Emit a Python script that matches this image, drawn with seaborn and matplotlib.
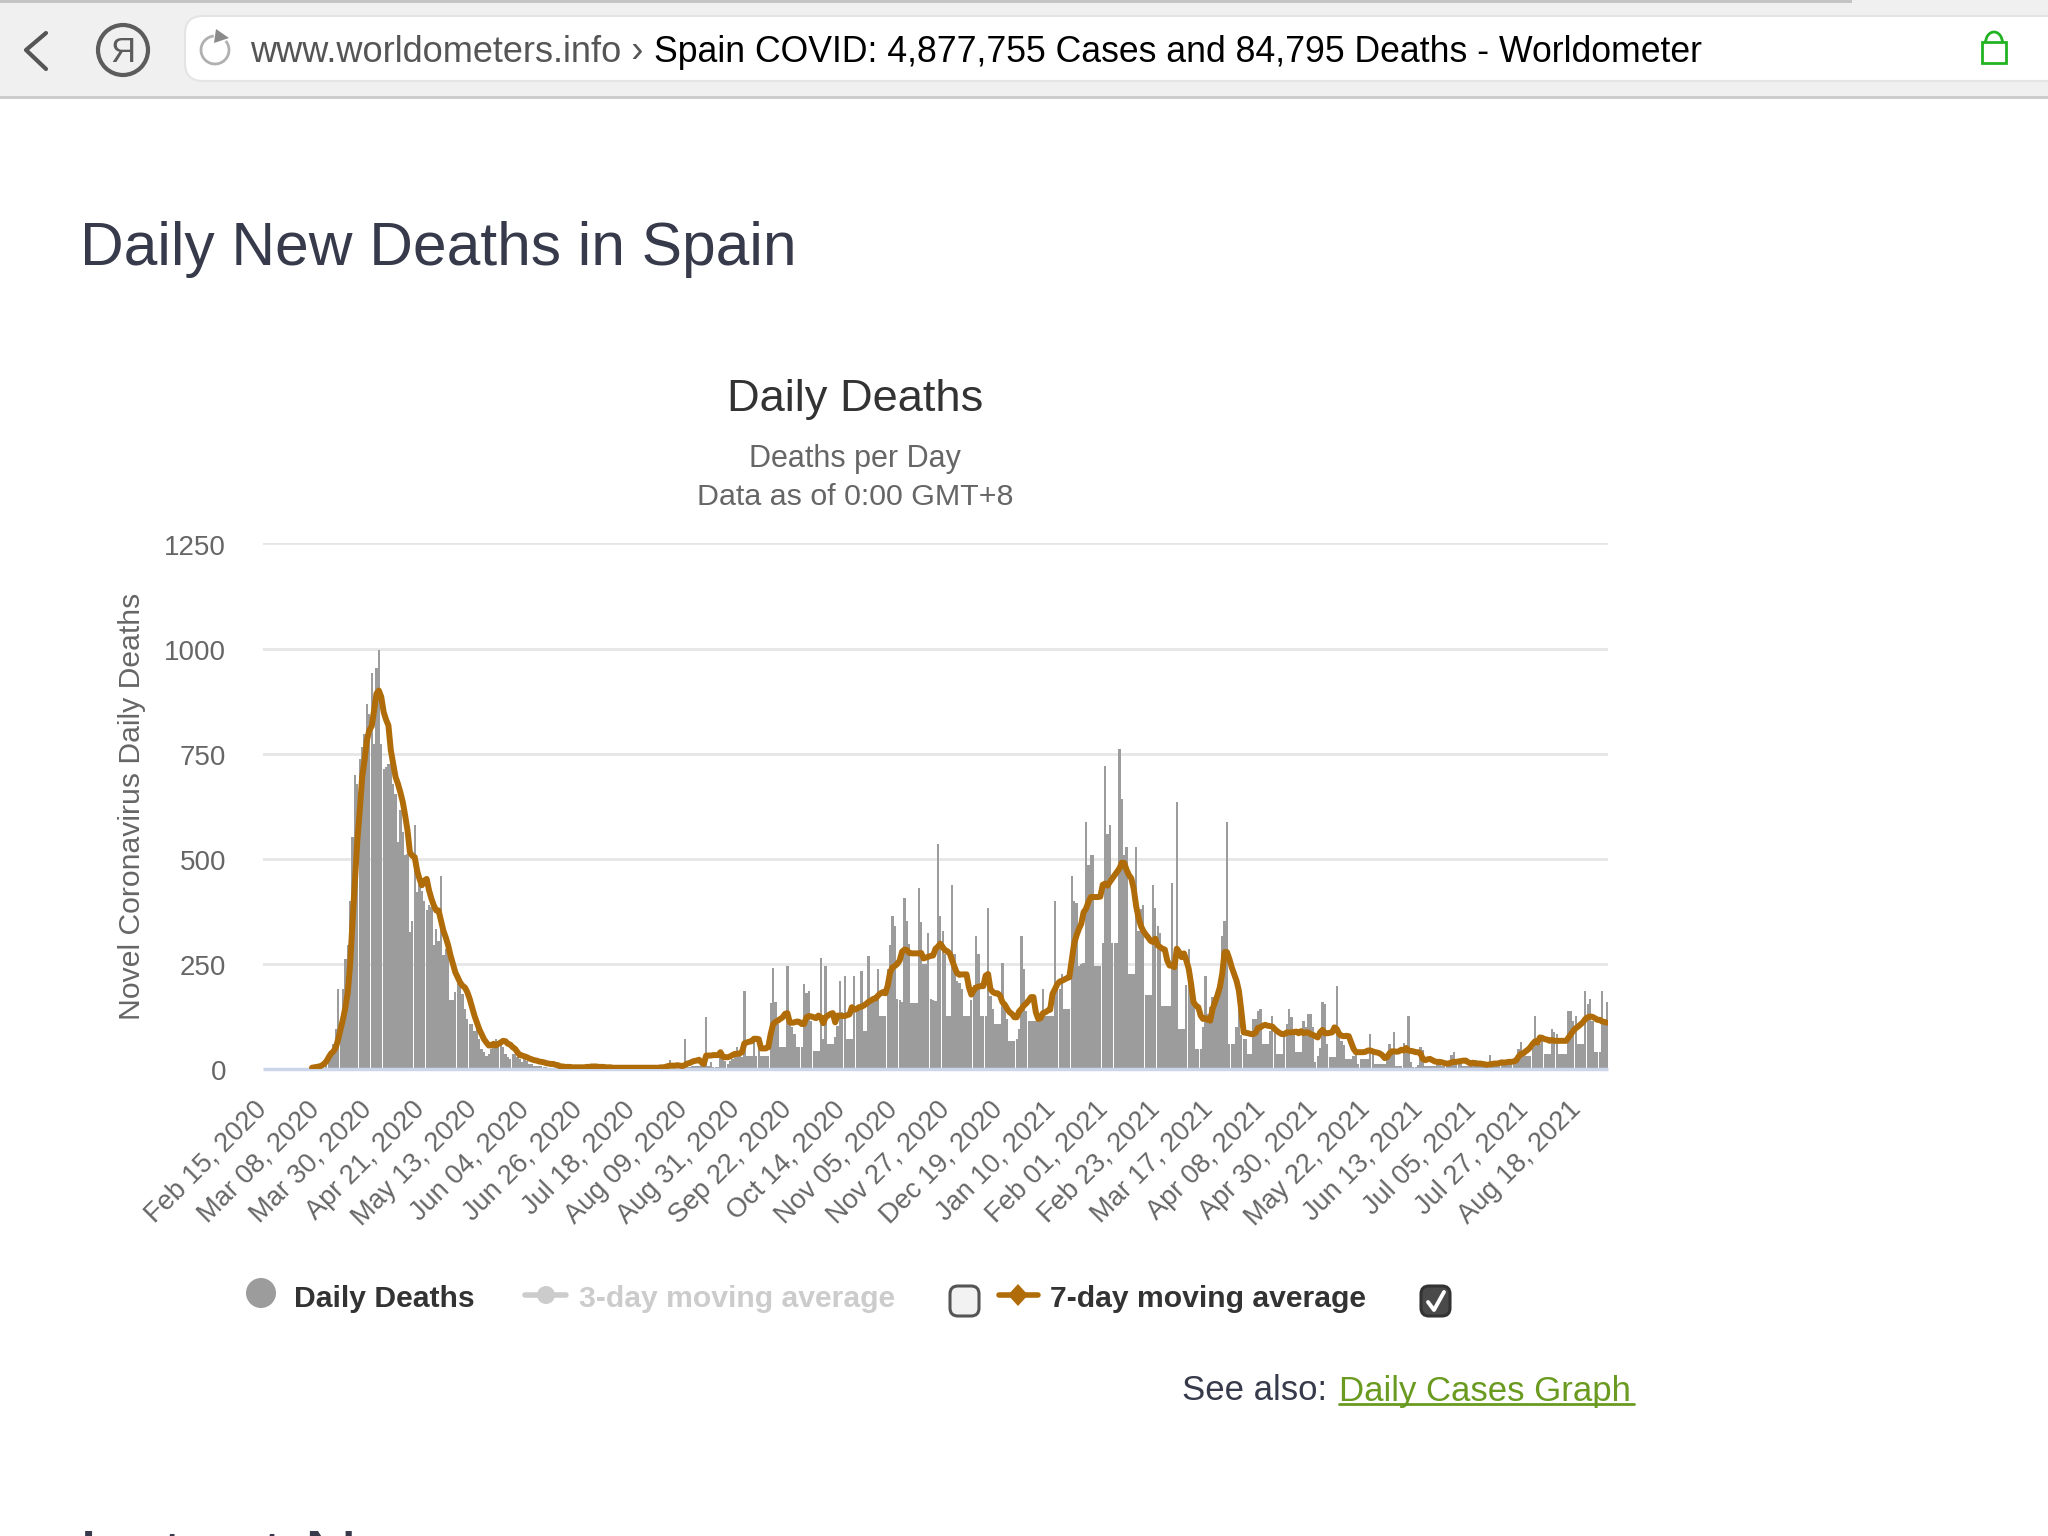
import numpy as np
import pandas as pd
import seaborn as sns
import matplotlib
matplotlib.use("Agg")
import matplotlib.pyplot as plt
from matplotlib.patches import FancyBboxPatch, Circle, Polygon, Arc, Rectangle
from matplotlib.transforms import ScaledTranslation

# ---------- data ----------
DAILY = [
 0,0,0,0,0,0,0,0,0,0, 0,0,0,0,0,0,0,0,0,0,
 0,0,0,0,0,2,15,30,42,60,
 95,190,85,190,262,294,400,551,700,678,
 738,765,797,869,845,942,774,954,996,772,
 714,718,726,738,678,653,540,616,563,508,
 512,325,353,581,420,440,424,400,377,389,
 385,294,333,305,460,270,286,274,163,163,
 183,218,202,179,143,119,107,107,91,95,
 71,48,40,32,36,48,52,71,67,60,
 52,36,28,24,36,36,28,24,16,24,
 20,12,12,8,8,8,8,4,4,3,
 3,2,3,2,1,2,1,2,1,1,
 2,1,1,2,1,1,2,1,3,1,
 1,2,1,1,2,3,1,1,2,1,
 2,1,1,2,1,1,2,1,2,1,
 3,2,1,2,3,2,3,4,4,5,
 21,5,6,6,6,6,71,6,5,8,
 6,6,8,16,8,123,8,16,4,4,
 4,44,24,20,12,20,24,28,52,40,
 28,185,30,30,30,75,30,71,30,30,
 30,30,156,240,160,107,53,53,53,245,
 123,99,83,53,53,53,202,180,185,115,
 42,42,42,263,71,245,60,60,60,77,
 103,209,135,221,71,71,71,221,139,143,
 233,90,90,269,163,171,175,239,125,125,
 125,239,294,365,341,167,163,160,407,353,
 298,156,156,156,431,349,250,250,323,167,
 164,161,534,365,329,274,125,125,437,274,
 210,205,190,125,125,125,163,200,317,274,
 125,125,125,383,173,143,107,107,107,252,
 151,119,66,66,66,71,95,317,238,139,
 113,113,113,113,113,113,190,127,127,127,
 127,400,210,190,226,143,143,143,460,400,
 394,246,250,251,587,486,510,510,246,246,
 246,300,720,558,581,299,299,299,762,641,
 508,528,226,226,226,528,329,381,389,175,
 175,175,438,383,341,324,149,149,149,149,
 443,238,635,95,95,95,200,286,234,155,
 48,48,48,100,221,131,148,171,171,180,
 194,317,353,587,60,60,60,101,151,80,
 71,71,36,36,119,119,137,142,60,60,
 60,90,125,91,36,36,36,90,107,143,
 123,87,41,41,41,113,100,131,131,100,
 16,32,50,160,155,60,29,29,29,197,
 79,67,56,24,24,24,30,36,12,24,
 24,24,24,83,40,12,12,12,12,12,
 30,60,36,89,6,6,6,63,50,125,
 16,4,4,10,52,44,8,8,8,8,
 8,12,12,8,6,6,6,34,40,12,
 12,12,6,6,6,12,14,21,10,6,
 6,6,12,34,14,6,6,6,12,12,
 14,14,12,12,14,48,65,32,32,32,
 32,50,125,60,60,75,36,36,36,95,
 87,83,36,36,36,36,137,137,115,125,
 60,60,60,185,155,167,115,41,41,41,
 185,111,160,
]
MA_FIRST_DAY = 20
MA7 = [
 3,4,5,6,8,12,18,28,37,42,
 52,71,95,119,147,183,250,353,448,544,
 615,694,734,782,806,815,853,893,900,885,
 849,831,817,758,726,694,678,658,635,603,
 567,515,507,504,472,452,437,448,452,425,
 405,389,377,377,353,329,313,294,270,250,
 230,218,206,198,194,183,167,147,127,111,
 95,83,71,63,56,56,60,56,60,63,
 67,66,60,58,52,48,40,33,32,30,
 28,25,23,21,20,18,17,16,14,13,
 12,12,10,9,6,6,5,5,5,4,
 4,4,4,4,4,5,5,6,6,6,
 5,5,5,4,4,4,3,3,3,3,
 3,3,3,3,3,3,3,3,3,3,
 3,3,3,3,3,3,4,4,5,7,
 8,8,8,9,8,7,9,13,14,17,
 19,20,22,16,12,32,32,32,33,33,
 33,40,29,28,28,30,33,36,36,37,
 40,61,63,65,66,72,72,71,49,49,
 49,52,83,106,112,115,119,123,131,133,
 111,110,111,113,112,107,107,123,126,125,
 123,121,127,123,109,123,127,131,133,111,
 127,127,126,126,128,130,147,141,143,147,
 148,151,155,160,163,167,168,175,180,183,
 180,198,230,242,245,250,258,279,284,283,
 276,275,275,275,275,276,263,265,267,269,
 270,286,291,298,290,282,280,274,258,242,
 228,224,225,225,225,194,177,187,194,196,
 197,197,222,226,190,183,180,180,175,159,
 153,143,135,131,123,123,137,143,151,156,
 163,171,171,135,119,121,133,135,139,141,
 179,190,202,208,210,213,216,218,258,298,
 317,333,345,373,381,397,409,409,409,409,
 410,438,441,436,445,453,461,469,477,491,
 490,473,461,453,428,387,359,340,328,320,
 313,305,302,310,294,290,286,284,258,246,
 246,242,286,278,266,275,258,238,202,159,
 151,147,127,119,121,117,115,143,159,175,
 194,226,278,278,262,242,226,210,186,139,
 87,86,85,83,83,86,98,99,103,105,
 103,102,101,95,90,86,83,83,87,87,
 87,88,89,85,90,85,87,87,83,81,
 78,75,87,93,85,85,86,87,99,95,
 83,79,78,79,78,63,48,40,40,40,
 40,41,44,44,42,40,39,37,33,26,
 28,37,42,42,41,42,46,44,50,44,
 43,42,40,40,37,24,21,23,24,21,
 18,17,17,16,14,13,13,16,17,17,
 18,19,20,20,16,13,15,13,13,13,
 12,11,10,11,12,13,13,14,16,15,
 16,17,17,18,20,29,36,37,42,46,
 52,60,66,63,75,74,71,70,67,69,
 67,67,67,67,67,67,75,83,91,97,
 101,106,111,119,123,125,124,121,117,117,
 113,112,110,
]
X_TICK_LABELS = ["Feb 15, 2020","Mar 08, 2020","Mar 30, 2020","Apr 21, 2020","May 13, 2020",
 "Jun 04, 2020","Jun 26, 2020","Jul 18, 2020","Aug 09, 2020","Aug 31, 2020","Sep 22, 2020",
 "Oct 14, 2020","Nov 05, 2020","Nov 27, 2020","Dec 19, 2020","Jan 10, 2021","Feb 01, 2021",
 "Feb 23, 2021","Mar 17, 2021","Apr 08, 2021","Apr 30, 2021","May 22, 2021","Jun 13, 2021",
 "Jul 05, 2021","Jul 27, 2021","Aug 18, 2021"]
TICK_EVERY = 22
Y_TICKS = [0, 250, 500, 750, 1000, 1250]

# ---------- style ----------
sns.set_theme(style="white")
plt.rcParams['font.family'] = ['Liberation Sans', 'DejaVu Sans']
W, H = 2048, 1536
GREY_TXT = "#666666"
BAR = "#9c9c9c"
LINE = "#B06C08"

fig = plt.figure(figsize=(W/100, H/100), dpi=100, facecolor="white")

# pixel-coordinate page layer (browser chrome and page text)
pg = fig.add_axes([0, 0, 1, 1], zorder=0)
pg.set_xlim(0, W); pg.set_ylim(H, 0); pg.axis("off")

pg.add_patch(Rectangle((0, 0), W, 97, fc="#f0f0f0", ec="none"))
pg.add_patch(Rectangle((0, 0), 1852, 2.5, fc="#c4c4c4", ec="none"))
pg.add_patch(Rectangle((0, 96), W, 3, fc="#cdcdcd", ec="none"))
pg.add_patch(FancyBboxPatch((185, 16), 1900, 65, boxstyle="round,pad=0,rounding_size=18",
                            fc="white", ec="#e4e4e4", lw=1.5))
pg.plot([46, 26, 46], [33, 50, 69], color="#555555", lw=3, solid_capstyle="round")
pg.add_patch(Circle((123, 50), 25, fc="none", ec="#5c5c5c", lw=3))
pg.text(123, 52, "Я", fontsize=25, color="#5c5c5c", ha="center", va="center",
        family=["Liberation Sans", "DejaVu Sans"])
pg.add_patch(Arc((215, 50), 28, 28, theta1=-40, theta2=265, color="#b0b0b0", lw=2))
pg.add_patch(Polygon([[216, 29], [229, 38], [214, 43]], fc="#8a8a8a", ec="none"))
pg.text(250, 52, "www.worldometers.info ›", fontsize=26, color="#555555", va="center", ha="left")
pg.text(654, 52, "Spain COVID: 4,877,755 Cases and 84,795 Deaths - Worldometer",
        fontsize=25.65, color="#000000", va="center", ha="left")
pg.add_patch(Rectangle((1982, 42), 24, 21, fc="none", ec="#22b322", lw=2))
pg.add_patch(Arc((1994, 43), 17, 22, theta1=180, theta2=360, color="#22b322", lw=2))

pg.text(80, 249, "Daily New Deaths in Spain", fontsize=43.6, color="#363a4a", va="center", ha="left")
pg.text(855, 400, "Daily Deaths", fontsize=32.6, color="#333333", va="center", ha="center")
pg.text(855, 459, "Deaths per Day", fontsize=22, color=GREY_TXT, va="center", ha="center")
pg.text(855, 497, "Data as of 0:00 GMT+8", fontsize=21.9, color=GREY_TXT, va="center", ha="center")

# legend
pg.add_patch(Circle((261, 1293), 15, fc=BAR, ec="none"))
pg.text(294, 1299, "Daily Deaths", fontsize=21.7, fontweight="bold", color="#333333", va="center")
pg.plot([525, 566], [1295, 1295], color="#cccccc", lw=4)
pg.add_patch(Circle((546, 1295), 9, fc="#cccccc", ec="none"))
pg.text(579, 1299, "3-day moving average", fontsize=21.7, fontweight="bold", color="#cccccc", va="center")
pg.add_patch(FancyBboxPatch((950, 1286), 29, 30, boxstyle="round,pad=0,rounding_size=8",
                            fc="#f2f2f2", ec="#555555", lw=2.2))
pg.plot([999, 1038], [1295, 1295], color=LINE, lw=4)
pg.add_patch(Polygon([[1018, 1284], [1028, 1295], [1018, 1306], [1008, 1295]], fc=LINE, ec="none"))
pg.text(1050, 1299, "7-day moving average", fontsize=21.7, fontweight="bold", color="#333333", va="center")
pg.add_patch(FancyBboxPatch((1421, 1286), 29, 30, boxstyle="round,pad=0,rounding_size=8",
                            fc="#4a4a4a", ec="#333333", lw=2.2))
pg.plot([1428, 1434, 1444], [1302, 1310, 1292], color="white", lw=2.8)

# see also + cut heading
pg.text(1182, 1391, "See also:", fontsize=25, color="#363a4a", va="center", ha="left")
pg.text(1339, 1391, "Daily Cases Graph", fontsize=25, color="#6a9a1f", va="center", ha="left")
pg.plot([1339, 1634], [1404, 1404], color="#6a9a1f", lw=2)
pg.text(79, 1581, "Latest News", fontsize=54, color="#363a4a", va="baseline", ha="left")

# ---------- chart ----------
days = np.arange(len(DAILY))
bars = pd.DataFrame({"day": days, "deaths": DAILY})
ma = pd.DataFrame({"day": np.arange(MA_FIRST_DAY, MA_FIRST_DAY + len(MA7)), "avg": MA7})

x0, x1, y0, y1 = 263, 1608, 543.4, 1069
ax = fig.add_axes([x0/W, 1 - y1/H, (x1-x0)/W, (y1-y0)/H], zorder=1)
ax.patch.set_alpha(0)

sns.barplot(data=bars, x="day", y="deaths", color=BAR, saturation=1, width=0.95,
            linewidth=0, ax=ax, zorder=2)
sns.lineplot(data=ma, x="day", y="avg", color=LINE, linewidth=4.3, ax=ax, zorder=3,
             errorbar=None, legend=False)

ax.set_xlim(-0.5, len(DAILY) - 0.5)
ax.set_ylim(0, 1250)
ax.set_yticks(Y_TICKS)
ax.set_yticklabels([str(v) for v in Y_TICKS], fontsize=20, color=GREY_TXT)
ax.set_xticks(np.arange(len(X_TICK_LABELS)) * TICK_EVERY)
ax.set_xticklabels(X_TICK_LABELS, fontsize=19.5, color=GREY_TXT, rotation=45,
                   ha="right", rotation_mode="anchor")
ax.tick_params(axis="x", length=0, pad=14)
ax.tick_params(axis="y", length=0, pad=26.6)
shift_x = ScaledTranslation(-0.105, -0.08, fig.dpi_scale_trans)
for lab in ax.get_xticklabels():
    lab.set_transform(lab.get_transform() + shift_x)
shift_y = ScaledTranslation(0, -0.015, fig.dpi_scale_trans)
for lab in ax.get_yticklabels():
    lab.set_transform(lab.get_transform() + shift_y)
ax.set_xlabel("")
ax.set_ylabel("")
ax.grid(axis="y", color="#e6e6e6", lw=2)
ax.grid(axis="x", visible=False)
ax.set_axisbelow(True)
for s in ("top", "left", "right"):
    ax.spines[s].set_visible(False)
ax.spines["bottom"].set_color("#ccd6eb")
ax.spines["bottom"].set_linewidth(2.5)
ax.spines["bottom"].set_capstyle("butt")
pg.text(132, 806, "Novel Coronavirus Daily Deaths", fontsize=21.7, color=GREY_TXT,
        rotation=90, va="center", ha="center")

assert len(DAILY) == 563 and len(MA7) == 543, (len(DAILY), len(MA7))
fig.savefig("out.png", dpi=100)
